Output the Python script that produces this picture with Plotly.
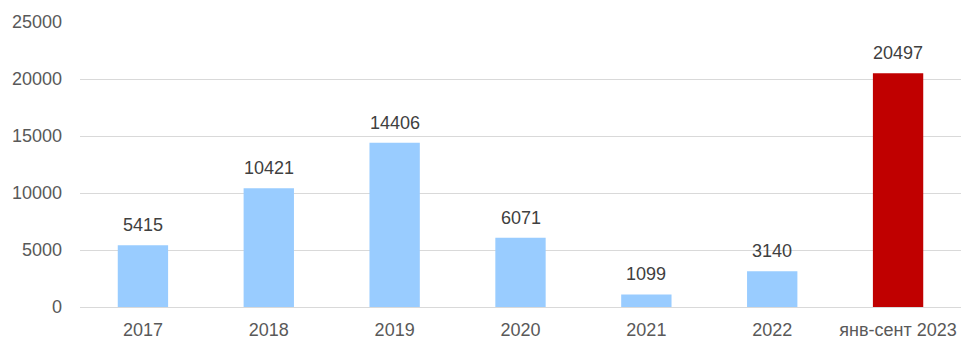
import plotly.graph_objects as go

categories = ["2017", "2018", "2019", "2020", "2021", "2022", "янв-сент 2023"]
values = [5415, 10421, 14406, 6071, 1099, 3140, 20497]
colors = ["#99CCFF"] * 6 + ["#C00000"]
y_ticks = [0, 5000, 10000, 15000, 20000, 25000]

xpos = list(range(len(categories)))

fig = go.Figure()
fig.add_trace(go.Bar(x=xpos, y=values, marker=dict(color=colors, line=dict(width=0)),
                     width=0.4, hoverinfo="skip"))

for i, v in zip(xpos, values):
    fig.add_annotation(x=i, y=v, xref="x", yref="y", text=str(v), showarrow=False,
                       yanchor="bottom", yshift=8,
                       font=dict(family="Liberation Sans, Arial", size=18, color="#404040"))

fig.update_layout(
    width=978, height=352,
    margin=dict(l=80, r=17, t=19, b=45),
    paper_bgcolor="white", plot_bgcolor="white",
    showlegend=False,
    font=dict(family="Liberation Sans, Arial", size=18, color="#595959"),
)
fig.update_yaxes(range=[0, 25000], tickvals=y_ticks, ticktext=[str(t) for t in y_ticks],
                 showgrid=True, gridcolor="#D9D9D9",
                 gridwidth=1, zeroline=True, zerolinecolor="#D9D9D9", zerolinewidth=1,
                 ticklabelstandoff=17, showline=False)
fig.update_xaxes(range=[-0.5, len(categories) - 0.5], tickvals=xpos, ticktext=categories,
                 showgrid=False, showline=False, zeroline=False, ticks="", ticklabelstandoff=10)

fig.write_html("out.html")
